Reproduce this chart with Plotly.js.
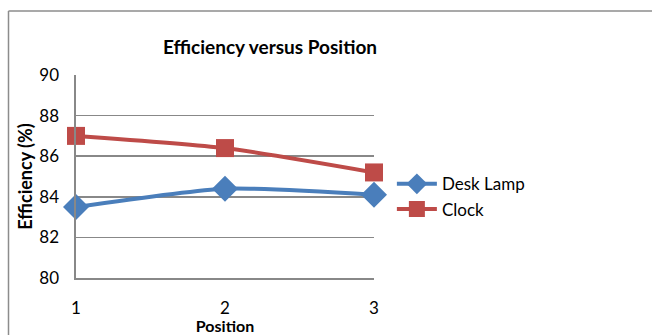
<!DOCTYPE html>
<html>
<head>
<meta charset="utf-8">
<script src="https://cdn.plot.ly/plotly-3.0.1.min.js"></script>
<style>
  html, body { margin: 0; padding: 0; background: #fff; }
  #chart { width: 652px; height: 335px; }
</style>
</head>
<body>
<div id="chart"></div>
<script>
// Efficiency measured at three positions for two loads
const positions = [1, 2, 3];
const deskLamp = [83.5, 84.4, 84.1];
const clock = [87.0, 86.4, 85.2];
const yTicks = [80, 82, 84, 86, 88, 90];

const FONT = 'Lato, "Open Sans", sans-serif';
const BLUE = '#4a7ebb';
const RED = '#be4b48';
const GRID = '#888888';

const traces = [
  {
    x: positions, y: deskLamp, name: 'Desk Lamp',
    type: 'scatter', mode: 'lines+markers', cliponaxis: false,
    line: { color: BLUE, width: 4, shape: 'spline', smoothing: 0.6 },
    marker: { symbol: 'diamond', size: 20, color: BLUE }
  },
  {
    x: positions, y: clock, name: 'Clock',
    type: 'scatter', mode: 'lines+markers', cliponaxis: false,
    line: { color: RED, width: 4, shape: 'spline', smoothing: 0.6 },
    marker: { symbol: 'square', size: 18, color: RED }
  }
];

const layout = {
  width: 652, height: 335,
  margin: { l: 76, r: 278, t: 75, b: 57 },
  paper_bgcolor: '#fff', plot_bgcolor: '#fff',
  font: { family: FONT, color: '#000', size: 17 },
  showlegend: true,
  title: {
    text: '<b>Efficiency versus Position</b>',
    font: { family: FONT, size: 19, color: '#000' },
    x: 270 / 652, xanchor: 'center', y: 1 - 47 / 335, yanchor: 'middle'
  },
  xaxis: {
    range: [1, 3], tickvals: positions, ticktext: positions.map(String),
    showgrid: false, zeroline: false,
    showline: true, linecolor: GRID, linewidth: 1.6,
    ticks: 'outside', ticklen: 14, tickcolor: 'rgba(0,0,0,0)',
    tickfont: { family: FONT, size: 17 },
    title: { text: '<b>Position</b>', font: { family: FONT, size: 16 }, standoff: 0 },
    fixedrange: true
  },
  yaxis: {
    range: [80, 90], tickvals: yTicks,
    showgrid: true, gridcolor: GRID, gridwidth: 1.6,
    zeroline: false, showline: true, linecolor: GRID, linewidth: 1.6,
    ticks: 'outside', ticklen: 12, tickcolor: 'rgba(0,0,0,0)',
    tickfont: { family: FONT, size: 17 },
    title: { text: '<b>Efficiency (%)</b>', font: { family: FONT, size: 18 }, standoff: 2 },
    fixedrange: true
  },
  legend: {
    x: 1.06, xanchor: 'left', y: 0.40, yanchor: 'middle',
    font: { family: FONT, size: 17 },
    bgcolor: 'rgba(0,0,0,0)', tracegroupgap: 0, itemwidth: 40
  },
  shapes: [
    // outer chart frame (left and top edges)
    { type: 'line', xref: 'paper', yref: 'paper',
      x0: (8.5 - 76) / 298, x1: (8.5 - 76) / 298, y0: (278 - 340) / 203, y1: (278 - 11) / 203,
      line: { color: '#8c8c8c', width: 1.5 } },
    { type: 'line', xref: 'paper', yref: 'paper',
      x0: (8.5 - 76) / 298, x1: (660 - 76) / 298, y0: (278 - 11) / 203, y1: (278 - 11) / 203,
      line: { color: '#8c8c8c', width: 1.5 } }
  ]
};

Plotly.newPlot('chart', traces, layout, { displayModeBar: false, staticPlot: true });
</script>
</body>
</html>
